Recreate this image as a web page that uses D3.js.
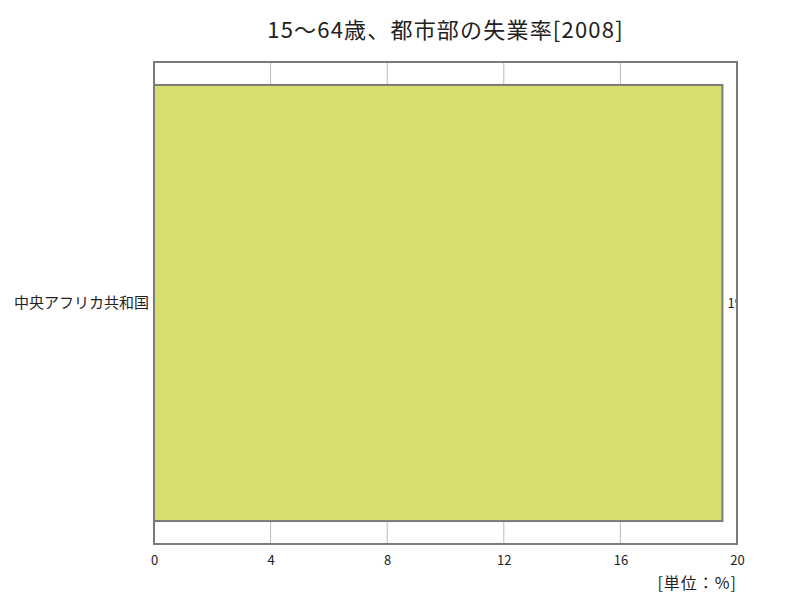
<!DOCTYPE html>
<html lang="ja">
  <head>
    <meta charset="UTF-8" />
    <title>15～64歳、都市部の失業率[2008]</title>
    <script src="https://d3js.org/d3.v7.min.js"></script>
    <style>
      body {
        margin: 0;
        background: #fff;
        font-family: "Noto Sans CJK JP", sans-serif;
      }
    </style>
  </head>
  <body>
    <svg id="chart" width="800" height="600"></svg>
    <script>
      const titleText = "15～64歳、都市部の失業率[2008]";
      const unitText = "[単位：%]";
      const countries = ["中央アフリカ共和国"];
      const rates = [19.5];
      const xTicks = [0, 4, 8, 12, 16, 20];

      const margin = { top: 62, right: 63, bottom: 56, left: 154 };
      const width = 800;
      const height = 600;
      const innerW = width - margin.left - margin.right;
      const innerH = height - margin.top - margin.bottom;

      const svg = d3.select("#chart");

      svg
        .append("text")
        .attr("x", margin.left + innerW / 2)
        .attr("y", 38)
        .attr("text-anchor", "middle")
        .attr("font-size", "22px")
        .attr("letter-spacing", "1.2px")
        .attr("fill", "#222")
        .text(titleText);

      const g = svg
        .append("g")
        .attr("transform", `translate(${margin.left},${margin.top})`);

      const x = d3.scaleLinear().domain([0, 20]).range([0, innerW]);
      const y = d3
        .scaleBand()
        .domain(countries)
        .range([0, innerH])
        .padding(0.05);

      svg
        .append("defs")
        .append("clipPath")
        .attr("id", "plot-clip")
        .append("rect")
        .attr("width", innerW)
        .attr("height", innerH);

      // grid lines
      g.selectAll("line.grid")
        .data(xTicks.slice(1, -1))
        .enter()
        .append("line")
        .attr("class", "grid")
        .attr("x1", (d) => x(d))
        .attr("x2", (d) => x(d))
        .attr("y1", 0)
        .attr("y2", innerH)
        .attr("stroke", "#bbb")
        .attr("stroke-width", 1);

      // bars
      g.selectAll("rect.bar")
        .data(rates)
        .enter()
        .append("rect")
        .attr("class", "bar")
        .attr("x", x(0))
        .attr("y", (d, i) => y(countries[i]))
        .attr("width", (d) => x(d) - x(0))
        .attr("height", y.bandwidth())
        .attr("fill", "#d8de6e")
        .attr("stroke", "#7a7a7a")
        .attr("stroke-width", 2);

      // value labels (clipped at plot edge)
      g.append("g")
        .attr("clip-path", "url(#plot-clip)")
        .selectAll("text")
        .data(rates)
        .enter()
        .append("text")
        .attr("x", (d) => x(d) + 5)
        .attr("y", (d, i) => y(countries[i]) + y.bandwidth() / 2)
        .attr("dy", "0.35em")
        .attr("font-size", "13px")
        .attr("fill", "#222")
        .text((d) => d);

      // frame
      g.append("rect")
        .attr("width", innerW)
        .attr("height", innerH)
        .attr("fill", "none")
        .attr("stroke", "#7a7a7a")
        .attr("stroke-width", 2);

      // x axis
      const xAxis = g
        .append("g")
        .attr("transform", `translate(0,${innerH})`)
        .call(d3.axisBottom(x).tickValues(xTicks).tickSize(0).tickPadding(12));
      xAxis.select(".domain").remove();
      xAxis
        .selectAll("text")
        .attr("font-size", "13px")
        .attr("font-family", "'Noto Sans CJK JP', sans-serif")
        .attr("fill", "#222");

      // y axis
      const yAxis = g
        .append("g")
        .call(d3.axisLeft(y).tickSize(0).tickPadding(5));
      yAxis.select(".domain").remove();
      yAxis
        .selectAll("text")
        .attr("font-size", "15px")
        .attr("font-family", "'Noto Sans CJK JP', sans-serif")
        .attr("fill", "#222");

      svg
        .append("text")
        .attr("x", margin.left + innerW)
        .attr("y", 589)
        .attr("text-anchor", "end")
        .attr("font-size", "16px")
        .attr("letter-spacing", "1px")
        .attr("fill", "#222")
        .text(unitText);
    </script>
  </body>
</html>
